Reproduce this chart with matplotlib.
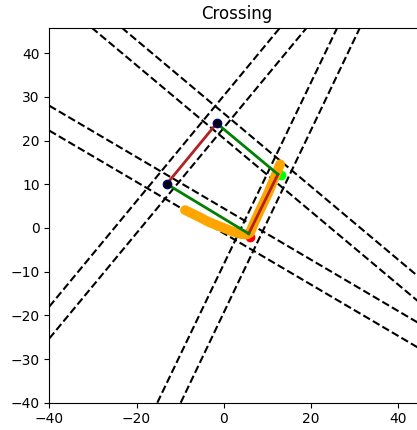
import numpy as np
import matplotlib
matplotlib.use('Agg')
import matplotlib.pyplot as plt

# dashed guide lines, each given by two points
line_p1 = [(-30.28, 45.86), (-23.40, 45.86), (-40, 28.0), (-40, 22.3),
           (-40, -18.0), (-40, -25.3), (-15.24, -40), (-9.88, -40)]
line_p2 = [(44.2, -16.5), (44.2, -10.8), (44.2, -21.5), (44.2, -27.2),
           (12.88, 45.86), (19.0, 45.86), (26.0, 45.86), (31.2, 45.86)]

# corners of the quad
top = (-1.63, 23.97)
left = (-13.09, 10.07)
bottom = (5.7, -1.3)
right = (12.4, 12.3)

# target points
red_pt = (6.0, -2.0)
green_pt = (13.04, 12.14)

# orange path
path_x = [-8.9, -6.0, -3.5, -0.5, 2.0, 4.0, 5.3, 6.0, 7.0, 8.7, 10.3, 11.7, 12.9]
path_y = [4.1, 2.7, 1.4, 0.2, -0.8, -1.4, -1.5, -1.1, 1.3, 4.9, 8.3, 11.7, 14.6]

fig = plt.figure(figsize=(4.17, 4.30), dpi=100)
ax = fig.add_axes([49.3/417, 27.3/430, 374.6/417, 375/430])

for p1, p2 in zip(line_p1, line_p2):
    ax.axline(p1, p2, color='k', linestyle='--', linewidth=1.5)

ax.plot(*red_pt, 'o', color='red', markersize=6)
ax.plot(*green_pt, 'o', color='lime', markersize=6)
ax.plot(path_x, path_y, color='orange', linewidth=7, solid_capstyle='round',
        solid_joinstyle='round')

ax.plot([top[0], left[0]], [top[1], left[1]], color='firebrick', linewidth=2)
ax.plot([bottom[0], right[0]], [bottom[1], right[1]], color='firebrick', linewidth=2)
ax.plot([top[0], right[0]], [top[1], right[1]], color='green', linewidth=2)
ax.plot([left[0], bottom[0]], [left[1], bottom[1]], color='green', linewidth=2)

ax.plot([top[0], left[0]], [top[1], left[1]], 'o', markerfacecolor='k',
        markeredgecolor='navy', markersize=6, linestyle='none')

ax.set_xlim(-40, 45.86)
ax.set_ylim(-40, 45.86)
ax.set_xticks([-40, -20, 0, 20, 40])
ax.set_title("Crossing")

fig.savefig("out.png", dpi=100)
